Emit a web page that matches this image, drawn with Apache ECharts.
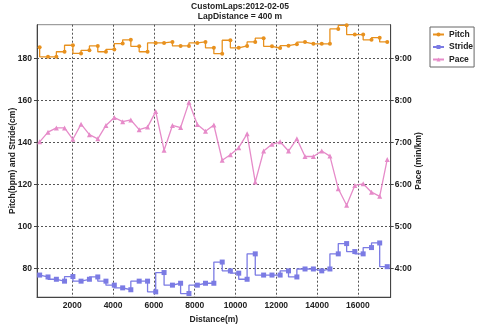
<!DOCTYPE html>
<html>
<head>
<meta charset="utf-8">
<script src="https://cdn.jsdelivr.net/npm/echarts@6/dist/echarts.min.js"></script>
<style>
  html, body { margin: 0; padding: 0; background: #fff; }
  #chart { width: 480px; height: 329px; }
</style>
</head>
<body>
<div id="chart"></div>
<script>
// Lap end distances (m)
const distances = [400, 810, 1220, 1620, 2030, 2430, 2840, 3250, 3650, 4060,
  4470, 4870, 5280, 5690, 6090, 6500, 6910, 7310, 7720, 8130,
  8530, 8940, 9350, 9750, 10160, 10570, 10970, 11380, 11790, 12190,
  12600, 13010, 13410, 13820, 14230, 14630, 15040, 15450, 15850, 16260,
  16670, 17070, 17440];

// Cadence per lap (steps/min)
const pitch = [185.4, 180.9, 180.9, 183.3, 186.4, 182.5, 184.0, 186.1, 183.3, 184.4,
  187.2, 189.0, 185.9, 183.3, 187.5, 187.5, 188.0, 186.1, 186.1, 187.5,
  188.0, 185.2, 182.4, 188.8, 185.2, 186.1, 188.0, 189.8, 185.9, 185.1,
  186.2, 186.9, 187.9, 187.1, 187.1, 187.1, 194.2, 195.9, 191.5, 191.5,
  189.0, 190.0, 188.0];

// Stride length per lap (cm)
const stride = [76.9, 76.0, 74.9, 74.0, 76.2, 74.0, 74.9, 76.0, 74.0, 72.1,
  70.8, 69.9, 74.0, 74.0, 68.9, 78.1, 72.1, 73.0, 68.1, 72.1,
  73.0, 73.0, 83.1, 78.9, 77.8, 74.9, 87.0, 76.9, 76.9, 76.9,
  78.9, 76.0, 79.8, 79.8, 78.9, 79.8, 87.0, 91.9, 88.1, 87.0,
  90.0, 92.2, 80.9];

// Pace per lap (minutes per km)
const pace = [7.02, 7.25, 7.35, 7.35, 7.08, 7.44, 7.19, 7.09, 7.41, 7.60,
  7.50, 7.54, 7.31, 7.37, 7.74, 6.82, 7.41, 7.36, 7.96, 7.43,
  7.27, 7.42, 6.58, 6.71, 6.88, 7.21, 6.06, 6.80, 6.96, 7.02,
  6.80, 7.09, 6.67, 6.67, 6.80, 6.68, 5.90, 5.51, 5.98, 6.02,
  5.82, 5.72, 6.60];

const xTicks = [2000, 4000, 6000, 8000, 10000, 12000, 14000, 16000];
const leftTicks = [80, 100, 120, 140, 160, 180];
const paceTicks = [4, 5, 6, 7, 8, 9];

const FONT = 'Liberation Sans';
const TXT = '#222';
const boldText = { fontFamily: FONT, fontSize: 8.5, fontWeight: 'bold', color: TXT };

const pair = arr => arr.map((v, i) => [distances[i], v]);
const dotted = { type: [2, 2], color: '#555', width: 1 };

const chart = echarts.init(document.getElementById('chart'), null, { renderer: 'canvas' });
chart.setOption({
  animation: false,
  backgroundColor: '#fff',
  textStyle: { fontFamily: FONT },
  title: {
    text: 'CustomLaps:2012-02-05\nLapDistance = 400 m',
    left: 'center',
    top: 1,
    padding: 0,
    textStyle: Object.assign({}, boldText, { lineHeight: 10.5 })
  },
  legend: {
    orient: 'vertical',
    left: 430,
    top: 27,
    padding: [3, 1, 3, 2],
    itemGap: 3.5,
    itemWidth: 11,
    itemHeight: 5,
    borderColor: '#666',
    borderWidth: 1,
    textStyle: boldText,
    data: ['Pitch', 'Stride', 'Pace']
  },
  grid: {
    left: 37, right: 89.3, top: 24.7, bottom: 27.3,
    show: true, borderColor: '#888', borderWidth: 1
  },
  xAxis: {
    type: 'value',
    min: 270, max: 17610,
    name: 'Distance(m)',
    nameLocation: 'middle',
    nameGap: 16,
    nameTextStyle: boldText,
    axisLine: { lineStyle: { color: '#444' } },
    axisTick: { show: false, customValues: xTicks },
    axisLabel: Object.assign({ customValues: xTicks, margin: 4, formatter: v => String(v) }, boldText),
    splitLine: { show: true, lineStyle: dotted }
  },
  yAxis: [
    {
      type: 'value',
      position: 'left',
      min: 66.4, max: 196.2,
      name: 'Pitch(bpm) and Stride(cm)',
      nameLocation: 'middle',
      nameRotate: 90,
      nameGap: 20,
      nameMoveOverlap: false,
      nameTextStyle: boldText,
      axisLine: { show: true, lineStyle: { color: '#444' } },
      axisTick: { show: true, length: 3, customValues: leftTicks, lineStyle: { color: '#444' } },
      axisLabel: Object.assign({ customValues: leftTicks, margin: 5 }, boldText),
      splitLine: { show: true, lineStyle: dotted }
    },
    {
      type: 'value',
      position: 'right',
      min: 3.32, max: 9.81,
      name: 'Pace (min/km)',
      nameLocation: 'middle',
      nameRotate: 90,
      nameGap: 23,
      nameMoveOverlap: false,
      nameTextStyle: boldText,
      axisLine: { show: true, lineStyle: { color: '#444' } },
      axisTick: { show: true, length: 3, customValues: paceTicks, lineStyle: { color: '#444' } },
      axisLabel: Object.assign({
        customValues: paceTicks, margin: 4,
        formatter: v => Math.round(v) + ':00'
      }, boldText),
      splitLine: { show: false }
    }
  ],
  series: [
    {
      name: 'Pitch', type: 'line', step: 'start',
      data: pair(pitch),
      symbol: 'circle', symbolSize: 4, showAllSymbol: true,
      itemStyle: { color: '#E8911E' },
      lineStyle: { color: '#E8911E', width: 1.3 },
      z: 3
    },
    {
      name: 'Stride', type: 'line', step: 'start',
      data: pair(stride),
      symbol: 'rect', symbolSize: 5, showAllSymbol: true,
      itemStyle: { color: '#7B7BE4' },
      lineStyle: { color: '#7B7BE4', width: 1.3 },
      z: 3
    },
    {
      name: 'Pace', type: 'line', yAxisIndex: 1,
      data: pair(pace),
      symbol: 'triangle', symbolSize: 5, showAllSymbol: true,
      itemStyle: { color: '#E68BC9' },
      lineStyle: { color: '#E68BC9', width: 1.3 },
      z: 3
    }
  ]
});
</script>
</body>
</html>
